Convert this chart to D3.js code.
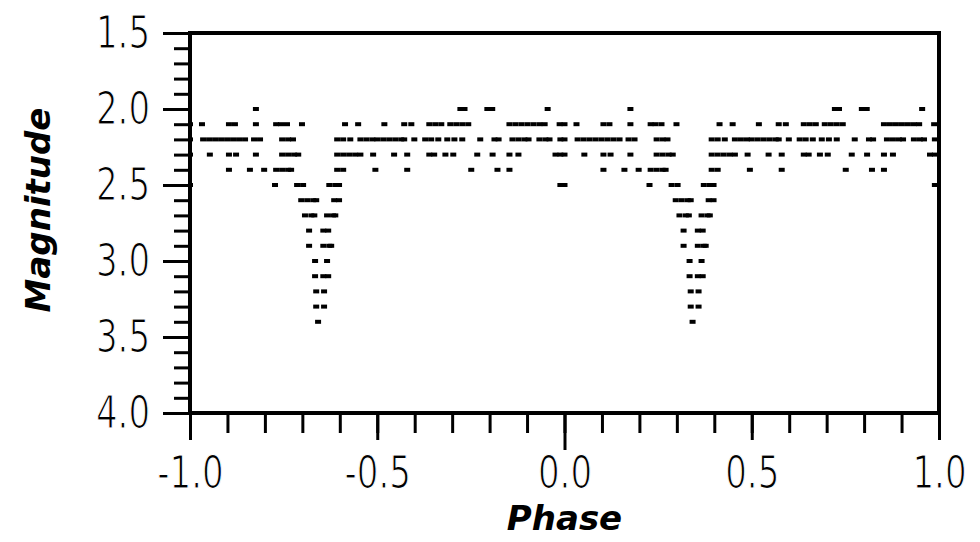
<!DOCTYPE html>
<meta charset="utf-8">
<style>
body { margin: 0; background: #fff; }
.tick text { font-family: "DejaVu Sans Condensed", "DejaVu Sans", sans-serif; font-size: 45px; fill: #000; stroke: #fff; stroke-width: 1.2px; }
.tick line { stroke: #000; stroke-width: 3px; }
.title { font-family: "DejaVu Sans", sans-serif; font-weight: bold; font-style: italic; font-size: 34px; fill: #000; }
</style>
<body>
<script src="https://d3js.org/d3.v7.min.js"></script>
<script>

// magnitude rows (the data is quantised to 0.1 mag)
var rowMags = [2.0, 2.1, 2.2, 2.3, 2.4, 2.5, 2.6, 2.7, 2.8, 2.9, 3.0, 3.1, 3.2, 3.3, 3.4];

var rowPhases = [
  [0.176, 0.722, 0.733, 0.794, 0.807, 0.955],
  [0.0, 0.032, 0.104, 0.120, 0.176, 0.230, 0.243, 0.259, 0.299, 0.414, 0.449, 0.519, 0.572, 0.591,
   0.639, 0.655, 0.671, 0.695, 0.711, 0.727, 0.743, 0.853, 0.869, 0.885, 0.901, 0.917, 0.933, 0.947, 0.987],
  [0.0, 0.035, 0.051, 0.067, 0.083, 0.099, 0.115, 0.131, 0.147, 0.171, 0.187, 0.246, 0.262, 0.275,
   0.393, 0.409, 0.428, 0.455, 0.471, 0.487, 0.500, 0.516, 0.532, 0.548, 0.564, 0.572, 0.599,
   0.628, 0.644, 0.663, 0.687, 0.706, 0.727, 0.775, 0.813, 0.824, 0.861, 0.877, 0.893, 0.904,
   0.933, 0.949, 0.960, 0.989],
  [0.0, 0.053, 0.104, 0.123, 0.176, 0.246, 0.262, 0.278, 0.289, 0.393, 0.409, 0.425, 0.441, 0.455,
   0.489, 0.545, 0.580, 0.639, 0.652, 0.682, 0.703, 0.767, 0.808, 0.853, 0.877, 0.976, 0.989],
  [0.104, 0.160, 0.198, 0.230, 0.246, 0.262, 0.270, 0.393, 0.409, 0.495, 0.580, 0.751, 0.821, 0.853],
  [0.0, 0.227, 0.286, 0.302, 0.372, 0.388, 0.398, 0.989],
  [0.297, 0.313, 0.329, 0.337, 0.385, 0.398],
  [0.307, 0.324, 0.332, 0.366, 0.382, 0.388],
  [0.318, 0.356, 0.369],
  [0.318, 0.356, 0.372, 0.377],
  [0.334, 0.366],
  [0.334, 0.356, 0.369],
  [0.337, 0.358],
  [0.337, 0.358],
  [0.342]
];

// tick values
var xMajor = [-1.0, -0.5, 0.0, 0.5, 1.0];
var yMajor = [1.5, 2.0, 2.5, 3.0, 3.5, 4.0];

var width = 980, height = 542;

var x = d3.scaleLinear().domain([-1, 1]).range([190, 939]);
var y = d3.scaleLinear().domain([1.5, 4.0]).range([33, 413]);

// plain hyphen for the minus sign, like the original
var fmt = function(d) { return d.toFixed(1); };
var squeeze = 0.84;

var svg = d3.select("body").append("svg")
    .attr("width", width)
    .attr("height", height);

// flatten rows, plot each phase twice (p and p-1)
var points = [];
rowMags.forEach(function(m, i) {
  rowPhases[i].forEach(function(p) {
    points.push({phase: p, mag: m});
    points.push({phase: p - 1, mag: m});
  });
});

svg.append("clipPath").attr("id", "plot")
  .append("rect")
    .attr("x", x(-1)).attr("y", y(1.5))
    .attr("width", x(1) - x(-1)).attr("height", y(4) - y(1.5));

svg.append("g")
    .attr("clip-path", "url(#plot)")
  .selectAll("rect")
    .data(points)
  .enter().append("rect")
    .attr("x", function(d) { return x(d.phase) - 3; })
    .attr("y", function(d) { return y(d.mag) - 2; })
    .attr("width", 6)
    .attr("height", 4)
    .attr("fill", "#000");

// minor ticks
var xMinor = d3.range(-10, 11).map(function(i) { return i / 10; });
var yMinor = d3.range(15, 41).map(function(i) { return i / 10; });

svg.append("g")
    .attr("transform", "translate(0," + y(4) + ")")
    .call(d3.axisBottom(x).tickValues(xMinor).tickSize(20).tickFormat(""))
    .call(function(g) { g.select(".domain").remove(); });

svg.append("g")
    .attr("transform", "translate(" + x(-1) + ",0)")
    .call(d3.axisLeft(y).tickValues(yMinor).tickSize(16).tickFormat(""))
    .call(function(g) { g.select(".domain").remove(); });

// major ticks with labels
var xAx = svg.append("g")
    .attr("transform", "translate(0," + y(4) + ")")
    .call(d3.axisBottom(x).tickValues(xMajor).tickSize(27).tickPadding(16).tickFormat(fmt));
xAx.select(".domain").remove();
xAx.selectAll(".tick line").attr("y2", function(d) { return d === 0 ? 37 : 27; });
xAx.selectAll(".tick text").attr("transform", "scale(" + squeeze + ",1)");

var yAx = svg.append("g")
    .attr("transform", "translate(" + x(-1) + ",0)")
    .call(d3.axisLeft(y).tickValues(yMajor).tickSize(27).tickPadding(12).tickFormat(fmt));
yAx.select(".domain").remove();
yAx.selectAll(".tick text")
    .attr("x", -40 / squeeze)
    .attr("transform", "scale(" + squeeze + ",1)");

// frame
svg.append("rect")
    .attr("x", x(-1)).attr("y", y(1.5))
    .attr("width", x(1) - x(-1)).attr("height", y(4) - y(1.5))
    .attr("fill", "none")
    .attr("stroke", "#000")
    .attr("stroke-width", 4);

// titles
svg.append("text")
    .attr("class", "title")
    .attr("text-anchor", "middle")
    .attr("x", x(0))
    .attr("y", 530)
    .text("Phase");

svg.append("text")
    .attr("class", "title")
    .attr("text-anchor", "middle")
    .attr("transform", "translate(50,210) rotate(-90)")
    .text("Magnitude");

</script>
</body>
